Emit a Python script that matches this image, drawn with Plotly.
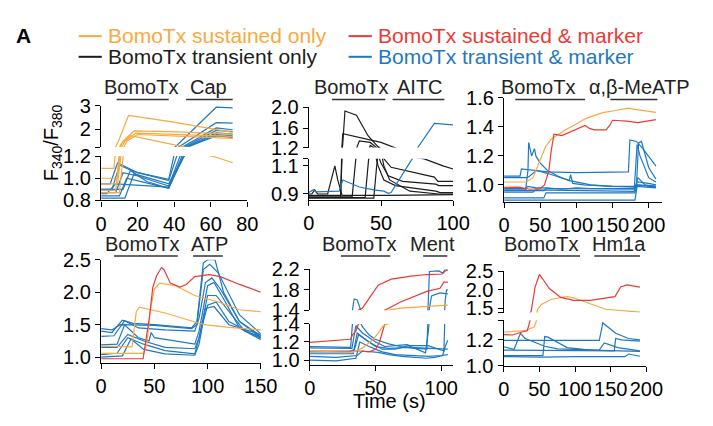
import plotly.graph_objects as go

W, H = 713, 426
ORANGE = "#F8A93F"
RED = "#EC3A35"
BLACK = "#1c1c1c"
BLUE = "#1F78C1"
FONT = "Liberation Sans, Arial, sans-serif"

# ---------------- data (time in s, F340/F380 ratio) ----------------
# Panel 1: BomoTx -> Capsaicin
cap_orange_x = [[0, 7, 10, 15, 38, 72], [0, 9, 12, 18, 42, 72], [0, 9, 13, 19, 72],
                [0, 8, 11, 16, 46, 63, 72], [0, 10, 14, 20, 72]]
cap_orange_y = [[1.09, 1.09, 1.6, 2.58, 2.32, 1.87], [1.0, 1.0, 1.5, 1.93, 1.89, 1.80],
                [0.95, 0.95, 1.5, 1.84, 1.70], [0.89, 0.89, 1.4, 1.73, 1.25, 1.19, 1.14],
                [0.87, 0.87, 1.5, 1.78, 1.62]]
cap_blue_x = [[0, 5, 9, 20, 37, 63, 72], [0, 6, 10, 18, 37, 63, 72], [0, 8, 12, 20, 37, 63, 72],
              [0, 10, 14, 37, 63, 72], [0, 12, 16, 25, 37, 63, 72], [0, 3, 8, 17, 37, 63, 72],
              [0, 13, 18, 37, 63, 72]]
cap_blue_y = [[0.95, 0.95, 1.14, 1.05, 0.99, 2.93, 2.9], [0.9, 0.9, 1.12, 1.06, 0.98, 2.28, 2.26],
              [0.87, 0.87, 1.05, 1.02, 0.93, 2.06, 1.98], [0.84, 0.84, 1.0, 0.91, 1.95, 1.9],
              [0.9, 0.9, 1.07, 0.97, 0.91, 1.85, 1.8], [0.86, 0.86, 0.95, 0.94, 0.92, 1.78, 1.72],
              [0.82, 0.82, 1.04, 0.95, 1.72, 1.66]]

# Panel 2: BomoTx -> AITC
aitc_black_x = [[0, 22, 23.5, 25, 33, 41, 49, 52.5, 57, 87, 89.5, 100],
                [0, 22, 23.5, 39, 50, 63, 80, 93, 100],
                [0, 30, 33, 35, 42.5, 47, 50, 55, 65, 88, 90, 100],
                [0, 39, 41, 42.5, 45, 48, 52, 60, 88, 91, 100],
                [0, 45, 47, 48.5, 50, 52, 56, 70, 90, 100],
                [0, 2, 4, 6, 13, 18, 20, 23, 55, 90, 100]]
aitc_black_y = [[0.89, 0.89, 1.3, 1.93, 1.85, 1.45, 1.2, 1.145, 1.09, 1.02, 0.99, 0.99],
                [0.875, 0.875, 1.49, 1.385, 1.32, 1.18, 1.15, 1.1, 1.078],
                [0.88, 0.88, 1.2, 1.35, 1.32, 1.2, 1.12, 1.03, 0.99, 0.97, 0.96, 0.96],
                [0.875, 0.875, 1.1, 1.26, 1.22, 1.1, 1.0, 0.96, 0.92, 0.91, 0.91],
                [0.87, 0.87, 1.1, 1.23, 1.2, 1.1, 1.0, 0.92, 0.9, 0.9],
                [0.9, 0.9, 0.93, 0.9, 0.9, 1.1, 1.0, 0.89, 0.89, 0.895, 0.895]]
aitc_blue_x = [[0, 3, 5, 21, 23.5, 30, 35, 45, 52, 55, 57, 71.6, 75, 87, 100]]
aitc_blue_y = [[0.91, 0.93, 0.915, 0.92, 1.0, 0.97, 0.95, 0.93, 0.92, 0.905, 0.91, 1.15, 1.2, 1.69, 1.66]]

# Panel 3: BomoTx -> alpha,beta-MeATP
meatp_orange_x = [[0, 31, 40, 49, 57, 65, 75, 85, 100, 112, 125, 138, 150, 161, 172, 183, 195, 210]]
meatp_orange_y = [[1.02, 1.02, 1.05, 1.16, 1.26, 1.315, 1.35, 1.38, 1.42, 1.456, 1.48, 1.5, 1.51, 1.52,
                   1.53, 1.52, 1.51, 1.5]]
meatp_red_x = [[0, 20, 36, 50, 56, 62, 65, 69, 80, 94, 105, 112, 118, 125, 141, 146, 150, 170, 185, 200, 210]]
meatp_red_y = [[0.983, 0.985, 0.97, 0.975, 1.0, 1.1, 1.23, 1.35, 1.34, 1.37, 1.39, 1.41, 1.39, 1.38, 1.38,
                1.41, 1.446, 1.44, 1.43, 1.44, 1.45]]
meatp_blue_x = [[0, 30, 33, 34, 38, 40, 42, 44, 50, 60, 75, 90, 120, 150, 180, 185, 210],
                [0, 22, 24, 40, 60, 100, 140, 172, 174, 183, 192, 200, 210],
                [0, 32, 35, 45, 60, 90, 92, 95, 110, 150, 183, 186, 190, 200, 210],
                [0, 55, 58, 120, 180, 184, 188, 200, 210],
                [0, 40, 43, 100, 150, 180, 185, 195, 210],
                [0, 55, 58, 120, 181, 184, 210],
                [0, 181, 184, 210],
                [0, 30, 32, 45, 60, 80, 100, 120, 181, 184, 200, 210]]
meatp_blue_y = [[0.975, 0.975, 1.1, 1.293, 1.2, 1.22, 1.25, 1.2, 1.15, 1.1, 1.06, 1.03, 1.0, 0.99, 0.985, 1.0, 0.99],
                [1.06, 1.06, 1.11, 1.1, 1.09, 1.085, 1.085, 1.09, 1.31, 1.3, 1.25, 1.2, 1.13],
                [1.05, 1.05, 1.06, 1.1, 1.08, 1.03, 1.07, 1.01, 1.0, 0.99, 0.99, 1.29, 1.3, 1.12, 1.04],
                [0.96, 0.96, 0.975, 0.97, 0.97, 1.28, 1.2, 1.05, 1.02],
                [0.95, 0.95, 0.965, 0.96, 0.955, 0.955, 1.05, 1.0, 0.99],
                [0.91, 0.91, 0.945, 0.945, 0.945, 1.0, 0.985],
                [0.895, 0.895, 0.99, 0.98],
                [0.965, 0.965, 0.99, 0.98, 0.98, 0.97, 0.98, 0.975, 0.975, 1.02, 1.01, 1.0]]

# Panel 4: BomoTx -> ATP
atp_red_x = [[0, 39.4, 45.5, 48.5, 52, 56.7, 59, 65, 74, 80, 88, 101.5, 112, 130, 150]]
atp_red_y = [[0.976, 0.976, 1.63, 2.07, 2.25, 2.38, 2.35, 2.14, 2.08, 2.12, 2.24, 2.27, 2.24, 2.12, 2.0]]
atp_orange_x = [[0, 29, 33, 36, 60, 97, 120, 150], [0, 40, 43, 46, 50, 55, 70, 88, 110, 130, 150]]
atp_orange_y = [[1.17, 1.16, 1.7, 1.77, 1.68, 1.5, 1.46, 1.42],
                [1.06, 1.06, 1.2, 1.7, 2.05, 2.14, 2.1, 1.95, 1.85, 1.73, 1.70]]
atp_blue_x = [[0, 10, 20, 30, 50, 85, 90, 96, 100, 107, 115, 130, 150],
              [0, 10, 18, 30, 50, 85, 90, 96, 102, 110, 130, 150],
              [0, 12, 22, 35, 60, 88, 92, 98, 104, 112, 130, 150],
              [0, 15, 22, 35, 45, 47, 50, 88, 92, 100, 106, 115, 130, 150],
              [0, 15, 25, 40, 60, 88, 92, 100, 108, 120, 135, 150],
              [0, 15, 25, 40, 60, 88, 92, 100, 108, 120, 150],
              [0, 20, 28, 40, 60, 88, 92, 98, 106, 120, 150]]
atp_blue_y = [[1.40, 1.38, 1.57, 1.52, 1.50, 1.45, 1.55, 2.45, 2.5, 2.5, 2.0, 1.55, 1.30],
              [1.44, 1.42, 1.5, 1.50, 1.49, 1.44, 1.5, 2.35, 2.43, 2.3, 1.65, 1.36],
              [1.32, 1.33, 1.56, 1.45, 1.42, 1.40, 1.6, 2.15, 2.22, 2.05, 1.55, 1.33],
              [1.19, 1.2, 1.5, 1.3, 1.25, 1.38, 1.3, 1.2, 1.4, 2.1, 2.15, 1.9, 1.45, 1.27],
              [1.15, 1.15, 1.35, 1.25, 1.15, 1.13, 1.3, 1.95, 1.95, 1.7, 1.4, 1.32],
              [1.04, 1.06, 1.3, 1.2, 1.1, 1.05, 1.3, 1.8, 1.85, 1.55, 1.29],
              [1.0, 1.02, 1.28, 1.12, 1.05, 1.03, 1.2, 1.75, 1.78, 1.5, 1.35]]

# Panel 5: BomoTx -> Menthol
ment_red_x = [[0, 31, 32.5, 35, 37, 38.5, 40, 44.7, 52, 62, 77, 89, 101, 103, 105],
              [0, 38, 45, 50, 53, 56, 57, 69, 89, 99, 102, 105]]
ment_red_y = [[1.195, 1.23, 1.28, 1.32, 1.4, 1.43, 1.44, 1.62, 1.89, 2.01, 2.07, 2.1, 2.11, 2.17, 2.19],
              [1.1, 1.1, 1.09, 1.12, 1.2, 1.35, 1.4, 1.56, 1.77, 1.83, 1.95, 1.95]]
ment_orange_x = [[0, 32.4, 40, 48.4, 56, 57, 69, 89, 105]]
ment_orange_y = [[1.1, 1.086, 1.135, 1.23, 1.38, 1.39, 1.44, 1.47, 1.5]]
ment_blue_x = [[0, 31, 32.4, 33.7, 36, 38.6, 40, 45, 49.6, 60, 69, 80, 89, 90, 91, 98, 101, 103, 105],
               [0, 32, 35, 40, 50, 57, 65, 74, 76, 90, 102, 103, 104, 105],
               [0, 33, 36, 45, 55, 65, 75, 85, 88, 90, 92.6, 99, 105],
               [0, 20, 36, 40, 52, 60, 70, 89, 95, 101, 103, 105],
               [0, 20, 35, 38, 45, 55, 65, 80, 90, 100, 105],
               [0, 30, 34, 37, 50, 60, 75, 90, 100, 105]]
ment_blue_y = [[1.15, 1.14, 1.4, 1.62, 1.6, 1.41, 1.37, 1.28, 1.23, 1.18, 1.15, 1.13, 1.12, 1.5, 2.16, 2.17, 2.13, 2.2, 2.2],
               [1.135, 1.13, 1.38, 1.3, 1.2, 1.15, 1.16, 1.17, 1.16, 1.16, 1.1, 1.6, 1.8, 1.8],
               [1.07, 1.07, 1.3, 1.2, 1.12, 1.12, 1.16, 1.1, 1.08, 1.3, 1.68, 1.74, 1.72],
               [1.04, 1.03, 1.05, 1.1, 1.085, 1.06, 1.04, 1.02, 1.03, 1.05, 1.15, 1.22],
               [1.0, 0.99, 1.02, 1.2, 1.15, 1.09, 1.06, 1.05, 1.04, 1.05, 1.06],
               [1.09, 1.09, 1.12, 1.28, 1.15, 1.13, 1.14, 1.13, 1.12, 1.12]]

# Panel 6: BomoTx -> Hm1a
hm1a_red_x = [[0, 12, 26, 33, 37, 38.5, 44, 50, 55, 64, 80, 98, 121, 139, 156, 164, 173, 191]]
hm1a_red_y = [[1.24, 1.237, 1.26, 1.27, 1.35, 1.42, 2.07, 2.41, 2.28, 2.03, 1.79, 1.71, 1.71, 1.77, 1.81, 2.07, 2.13, 2.07]]
hm1a_orange_x = [[0, 30, 43, 46, 47.5, 53, 66.5, 89, 98, 121, 143, 191]]
hm1a_orange_y = [[1.26, 1.27, 1.3, 1.35, 1.47, 1.6, 1.74, 1.81, 1.78, 1.62, 1.47, 1.39]]
hm1a_blue_x = [[0, 134, 139, 157, 175, 191],
               [0, 14.5, 23.5, 30, 57.5, 75.6, 134, 141, 160, 191],
               [0, 55, 57.5, 62, 89, 121, 191],
               [0, 134, 155, 157, 165, 191],
               [0, 55, 100, 134, 170, 175, 191]]
hm1a_blue_y = [[1.195, 1.195, 1.33, 1.25, 1.21, 1.2],
               [1.146, 1.127, 1.25, 1.21, 1.15, 1.13, 1.12, 1.175, 1.14, 1.115],
               [1.078, 1.078, 1.225, 1.22, 1.14, 1.12, 1.11],
               [1.12, 1.12, 1.115, 1.21, 1.2, 1.19],
               [1.07, 1.066, 1.07, 1.07, 1.07, 1.09, 1.073]]

# stimulus bars (start, end in s) and labels
stim_labels = [["BomoTx", "Cap"], ["BomoTx", "AITC"], ["BomoTx", "α,β-MeATP"],
               ["BomoTx", "ATP"], ["BomoTx", "Ment"], ["BomoTx", "Hm1a"]]
stim_bars = [[(8.5, 37), (46.5, 72)], [(16, 53), (58, 94)], [(15.5, 112), (147, 212)],
             [(12.2, 72), (86.4, 114.3)], [(23.6, 61.2), (86.2, 104.6)], [(20, 107), (127, 191)]]
stim_label_x = [[22, 59], [29.5, 77], [47, 186], [38, 101.5], [37.6, 93.6], [52.5, 161]]

legend_labels = ["BomoTx sustained only", "BomoTx sustained & marker",
                 "BomoTx transient only", "BomoTx transient & marker"]

# ---------------- layout helpers ----------------
def fx(p):
    return p / W


def fy(p):
    return 1 - p / H


def axis_style():
    return dict(showline=True, linecolor="black", linewidth=1.4, ticks="outside", ticklen=5,
                tickwidth=1.4, tickcolor="black", showgrid=False, zeroline=False,
                tickfont=dict(family=FONT, size=20, color="black"), fixedrange=True)


fig = go.Figure()

panels = [
    dict(x="x", xpx=(98.3, 249.3), xr=(0, 80), xt=[0, 20, 40, 60, 80],
         ys=[("y", 153, 199.7, (0.8, 1.2), [0.8, 1.0, 1.2], ["0.8", "1.0", "1.2"]),
             ("y2", 99.7, 143.5, (1.25, 3.0), [1.25, 2, 3], ["", "2", "3"])],
         series=[(cap_blue_x, cap_blue_y, BLUE), (cap_orange_x, cap_orange_y, ORANGE)], row=0),
    dict(x="x2", xpx=(313, 462), xr=(0, 100), xt=[0, 50, 100],
         ys=[("y3", 155.9, 198.9, (0.86, 1.15), [0.9, 1.1, 1.15], ["0.9", "1.1", ""]),
             ("y4", 101.7, 144, (1.22, 2.0), [1.22, 1.6, 2.0], ["1.2", "1.6", "2.0"])],
         series=[(aitc_black_x, aitc_black_y, BLACK), (aitc_blue_x, aitc_blue_y, BLUE)], row=0),
    dict(x="x3", xpx=(514.7, 678.3), xr=(0, 219), xt=[0, 50, 100, 150, 200],
         ys=[("y5", 91.7, 201.7, (0.88, 1.6), [1.0, 1.2, 1.4, 1.6], ["1.0", "1.2", "1.4", "1.6"])],
         series=[(meatp_blue_x, meatp_blue_y, BLUE), (meatp_orange_x, meatp_orange_y, ORANGE),
                 (meatp_red_x, meatp_red_y, RED)], row=0),
    dict(x="x4", xpx=(98.3, 263.3), xr=(0, 150), xt=[0, 50, 100, 150],
         ys=[("y6", 262.3, 371, (0.913, 2.5), [1.0, 1.5, 2.0, 2.5], ["1.0", "1.5", "2.0", "2.5"])],
         series=[(atp_blue_x, atp_blue_y, BLUE), (atp_orange_x, atp_orange_y, ORANGE),
                 (atp_red_x, atp_red_y, RED)], row=1),
    dict(x="x5", xpx=(314, 462), xr=(0, 109), xt=[0, 50, 100],
         ys=[("y7", 330, 372.8, (0.95, 1.4), [1.0, 1.2, 1.4], ["1.0", "1.2", "1.4"]),
             ("y8", 272.5, 315.5, (1.4, 2.2), [1.4, 1.8, 2.2], ["1.4", "1.8", "2.2"])],
         series=[(ment_blue_x, ment_blue_y, BLUE), (ment_red_x, ment_red_y, RED),
                 (ment_orange_x, ment_orange_y, ORANGE)], row=1),
    dict(x="x6", xpx=(514.3, 661.7), xr=(0, 200), xt=[0, 50, 100, 150, 200],
         ys=[("y9", 326.2, 374, (1.0, 1.35), [1.0, 1.2, 1.35], ["1.0", "1.2", ""]),
             ("y10", 274.3, 318, (1.38, 2.5), [1.38, 1.5, 2.0, 2.5], ["", "1.5", "2.0", "2.5"])],
         series=[(hm1a_blue_x, hm1a_blue_y, BLUE), (hm1a_orange_x, hm1a_orange_y, ORANGE),
                 (hm1a_red_x, hm1a_red_y, RED)], row=1),
]

layout = dict(width=W, height=H, margin=dict(l=0, r=0, t=0, b=0), plot_bgcolor="white",
              paper_bgcolor="white", showlegend=False, font=dict(family=FONT, color="black"))
shapes = []
annotations = []

label_y = [80, 245.5]
bar_y = [93.3, 258.3]

for i, p in enumerate(panels):
    xname = "xaxis" + p["x"][1:]
    lower_id = p["ys"][0][0]
    xa = axis_style()
    xa.update(domain=[fx(p["xpx"][0]), fx(p["xpx"][1])], range=list(p["xr"]), anchor=lower_id,
              tickvals=p["xt"], ticktext=[str(v) for v in p["xt"]])
    layout[xname] = xa
    for (yid, top, bot, yr, tv, tt) in p["ys"]:
        ya = axis_style()
        ya.update(domain=[fy(bot), fy(top)], range=list(yr), anchor=p["x"], tickvals=tv, ticktext=tt)
        layout["yaxis" + yid[1:]] = ya
        for xs_list, ys_list, color in p["series"]:
            for xs, ys in zip(xs_list, ys_list):
                fig.add_trace(go.Scatter(x=xs, y=ys, mode="lines", xaxis=p["x"], yaxis=yid,
                                         line=dict(color=color, width=1.2), hoverinfo="skip",
                                         cliponaxis=True))
    row = p["row"]
    for (x0, x1) in stim_bars[i]:
        shapes.append(dict(type="line", xref=p["x"], yref="paper", x0=x0, x1=x1,
                           y0=fy(bar_y[row]), y1=fy(bar_y[row]), line=dict(color="#333333", width=1.6)))
    for txt, lx in zip(stim_labels[i], stim_label_x[i]):
        annotations.append(dict(text=txt, xref=p["x"], yref="paper", x=lx, y=fy(label_y[row]),
                                showarrow=False, xanchor="center", yanchor="middle",
                                font=dict(family=FONT, size=20, color="#222222")))

# legend (drawn as annotations + short lines)
leg_pos = [(75, 26.5), (354, 26.5), (75, 48.3), (354, 48.3)]
leg_cols = [ORANGE, RED, BLACK, BLUE]
for (lx, ly), col, txt in zip(leg_pos, leg_cols, legend_labels):
    shapes.append(dict(type="line", xref="paper", yref="paper", x0=fx(lx), x1=fx(lx + 24),
                       y0=fy(ly), y1=fy(ly), line=dict(color=col, width=2)))
    annotations.append(dict(text=txt, xref="paper", yref="paper", x=fx(lx + 28), y=fy(ly - 0.5),
                            showarrow=False, xanchor="left", yanchor="middle",
                            font=dict(family=FONT, size=21, color=col)))

annotations.append(dict(text="<b>A</b>", xref="paper", yref="paper", x=fx(8), y=fy(25.5),
                        showarrow=False, xanchor="left", yanchor="middle",
                        font=dict(family=FONT, size=21, color="black")))
annotations.append(dict(text="F<sub>340</sub>/F<sub>380</sub>", xref="paper", yref="paper",
                        x=fx(47.5), y=fy(138.5), showarrow=False, textangle=-90,
                        xanchor="center", yanchor="middle",
                        font=dict(family=FONT, size=20, color="black")))
annotations.append(dict(text="Time (s)", xref="paper", yref="paper", x=fx(396.5), y=fy(411),
                        showarrow=False, xanchor="center", yanchor="middle",
                        font=dict(family=FONT, size=20, color="black")))

layout["shapes"] = shapes
layout["annotations"] = annotations
fig.update_layout(**layout)
fig.write_html("out.html")
